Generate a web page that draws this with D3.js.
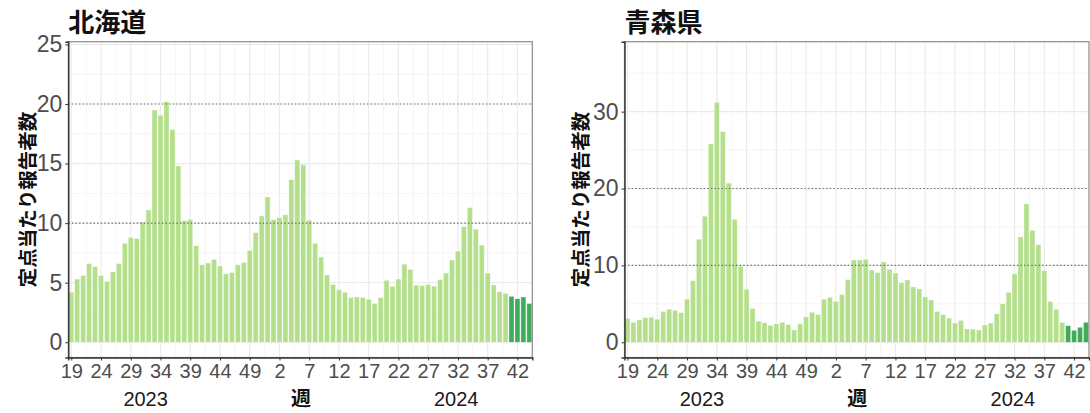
<!DOCTYPE html>
<html>
<head>
<meta charset="utf-8">
<script src="https://cdn.jsdelivr.net/npm/d3@7"></script>
<style>
  html, body { margin: 0; padding: 0; background: #fff; }
  svg { display: block; }
</style>
</head>
<body>
<svg id="chart" width="1090" height="413"></svg>
<script>
// ---------- data ----------
const years = [
  2023,2023,2023,2023,2023,2023,2023,2023,2023,2023,2023,2023,2023,2023,2023,2023,2023,
  2023,2023,2023,2023,2023,2023,2023,2023,2023,2023,2023,2023,2023,2023,2023,2023,2023,
  2024,2024,2024,2024,2024,2024,2024,2024,2024,2024,2024,2024,2024,2024,2024,2024,2024,2024,2024,2024,2024,2024,
  2024,2024,2024,2024,2024,2024,2024,2024,2024,2024,2024,2024,2024,2024,2024,2024,2024,2024,2024,2024,2024,2024
];
const weeks = [
  19,20,21,22,23,24,25,26,27,28,29,30,31,32,33,34,35,36,37,38,39,40,41,42,43,44,45,46,47,48,49,50,51,52,
  1,2,3,4,5,6,7,8,9,10,11,12,13,14,15,16,17,18,19,20,21,22,23,24,25,26,27,28,29,30,31,32,33,34,35,36,37,38,39,40,41,42,43,44
];
// 1 = latest weeks (dark green)
const recent = [
  0,0,0,0,0,0,0,0,0,0,0,0,0,0,0,0,0,0,0,0,0,0,0,0,0,0,0,0,0,0,0,0,0,0,
  0,0,0,0,0,0,0,0,0,0,0,0,0,0,0,0,0,0,0,0,0,0,0,0,0,0,0,0,0,0,0,0,0,0,0,0,0,0,0,0,1,1,1,1
];
const hokkaido = [
  4.2,5.3,5.6,6.6,6.35,5.6,5.1,5.9,6.6,8.3,
  8.8,8.7,10.1,11.1,19.5,19.05,20.2,17.85,14.8,10.2,
  10.3,8.1,6.5,6.65,6.95,6.4,5.75,5.85,6.5,6.7,
  7.7,9.2,10.6,12.2,10.3,10.45,10.7,13.65,15.3,14.9,
  10.25,8.3,7.15,5.65,4.85,4.4,4.2,3.75,3.8,3.75,
  3.6,3.25,3.75,5.2,4.7,5.3,6.55,6.1,4.8,4.75,
  4.85,4.7,5.25,5.8,6.9,7.65,9.7,11.3,9.5,8.15,
  5.8,4.8,4.25,4.1,3.85,3.65,3.8,3.25
];
const aomori = [
  3.1,2.6,2.9,3.2,3.25,3.0,4.0,4.3,4.15,3.85,
  5.6,8.0,13.4,16.4,25.8,31.2,27.4,20.7,16.0,9.9,
  6.9,4.4,2.75,2.55,2.2,2.4,2.6,2.3,1.6,2.4,
  3.3,3.9,3.6,5.6,5.85,5.3,6.2,8.15,10.7,10.7,
  10.8,9.4,9.05,10.45,9.5,9.0,7.75,8.1,7.2,6.95,
  5.9,5.5,4.0,3.6,3.15,2.5,2.85,1.72,1.7,1.6,
  2.25,2.5,3.7,5.0,6.5,8.9,13.7,18.0,14.55,12.7,
  9.3,5.3,4.3,2.6,2.15,1.55,1.95,2.6
];
const xTickLabels = ["19","24","29","34","39","44","49","2","7","12","17","22","27","32","37","42"];
const hokkaidoYTicks = [0,5,10,15,20,25];
const aomoriYTicks = [0,10,20,30];
const refLines = [10,20];
const yearLabels = ["2023","2024"];
const titles = ["北海道","青森県"];
const yTitle = "定点当たり報告者数";
const xTitle = "週";

// ---------- drawing ----------
const svg = d3.select("#chart");
const numFont = "'Liberation Sans', Arial, Helvetica, sans-serif";
const jpFont = "'Noto Sans CJK JP', 'Noto Sans', sans-serif";
const colLight = "#b4e08c";
const colDark = "#41ab5d";

const rows = weeks.map((w, i) => ({ i, w, y: years[i], recent: recent[i] }));

function drawPanel(cfg) {
  const g = svg.append("g");
  const x = d3.scaleLinear().domain([-0.5, weeks.length - 0.5]).range([cfg.x0, cfg.x1]);
  const y = d3.scaleLinear().domain(cfg.yDomain).range([cfg.y1, cfg.y0]);

  // clip
  const clipId = "clip" + cfg.id;
  svg.append("clipPath").attr("id", clipId).append("rect")
    .attr("x", cfg.x0).attr("y", cfg.y0).attr("width", cfg.x1 - cfg.x0).attr("height", cfg.y1 - cfg.y0);
  const inner = g.append("g").attr("clip-path", `url(#${clipId})`);

  // grid: minor horizontal
  const yt = cfg.yTicks;
  const step = yt[1] - yt[0];
  const minorY = [];
  for (let v = yt[0] + step / 2; v < cfg.yDomain[1]; v += step) minorY.push(v);
  inner.selectAll(".ymin").data(minorY).join("line")
    .attr("x1", cfg.x0).attr("x2", cfg.x1)
    .attr("y1", d => y(d)).attr("y2", d => y(d))
    .attr("stroke", "#f3f3f3").attr("stroke-width", 0.8);
  // minor vertical
  const tickIdx = xTickLabels.map((_, k) => k * 5);
  const minorX = tickIdx.map(t => t + 2.5);
  inner.selectAll(".xmin").data(minorX).join("line")
    .attr("y1", cfg.y0).attr("y2", cfg.y1)
    .attr("x1", d => x(d)).attr("x2", d => x(d))
    .attr("stroke", "#f3f3f3").attr("stroke-width", 0.8);
  // major
  inner.selectAll(".ymaj").data(yt).join("line")
    .attr("x1", cfg.x0).attr("x2", cfg.x1)
    .attr("y1", d => y(d)).attr("y2", d => y(d))
    .attr("stroke", "#ebebeb").attr("stroke-width", 1.2);
  inner.selectAll(".xmaj").data(tickIdx).join("line")
    .attr("y1", cfg.y0).attr("y2", cfg.y1)
    .attr("x1", d => x(d)).attr("x2", d => x(d))
    .attr("stroke", "#ebebeb").attr("stroke-width", 1.2);

  // bars
  const bw = (x(1) - x(0)) * 0.84;
  inner.selectAll(".bar").data(rows).join("rect")
    .attr("x", d => x(d.i) - bw / 2)
    .attr("width", bw)
    .attr("y", d => y(cfg.values[d.i]))
    .attr("height", d => y(0) - y(cfg.values[d.i]))
    .attr("fill", d => d.recent ? colDark : colLight)
    .attr("stroke", "#ffffff").attr("stroke-opacity", 0.5).attr("stroke-width", 0.6);

  // reference dotted lines
  inner.selectAll(".ref").data(refLines).join("line")
    .attr("x1", cfg.x0).attr("x2", cfg.x1)
    .attr("y1", d => y(d)).attr("y2", d => y(d))
    .attr("stroke", "#6a6a6a").attr("stroke-width", 1.1)
    .attr("stroke-dasharray", "1.4,2.2");

  // border
  g.append("rect").attr("x", cfg.x0).attr("y", cfg.y0)
    .attr("width", cfg.x1 - cfg.x0).attr("height", cfg.y1 - cfg.y0)
    .attr("fill", "none").attr("stroke", "#8c8c8c").attr("stroke-width", 1.2);

  // axes
  const yAxis = d3.axisLeft(y).tickValues(yt).tickSize(3).tickPadding(3).tickFormat(d3.format("d"));
  const ya = g.append("g").attr("transform", `translate(${cfg.x0},0)`).call(yAxis);
  ya.select(".domain").attr("stroke", "#333").attr("stroke-width", 1.4);
  ya.selectAll(".tick line").attr("stroke", "#333");
  ya.selectAll("text").attr("font-family", numFont).attr("font-size", 23).attr("fill", "#4d4d4d");

  const xAxis = d3.axisBottom(x).tickValues(tickIdx).tickSize(3).tickPadding(3)
    .tickFormat((d, k) => xTickLabels[k]);
  const xa = g.append("g").attr("transform", `translate(0,${cfg.y1})`).call(xAxis);
  xa.select(".domain").attr("stroke", "#333").attr("stroke-width", 1.4);
  xa.selectAll(".tick line").attr("stroke", "#333");
  xa.selectAll("text").attr("font-family", numFont).attr("font-size", 20).attr("fill", "#4d4d4d");

  // year labels and axis title
  const yearPos = [12.5, 64.7];
  g.selectAll(".yr").data(yearLabels).join("text")
    .attr("x", (d, k) => x(yearPos[k])).attr("y", 406)
    .attr("text-anchor", "middle").attr("font-family", numFont).attr("font-size", 20)
    .attr("fill", "#1a1a1a").text(d => d);
  g.append("text").attr("x", x(38.6)).attr("y", 406)
    .attr("text-anchor", "middle").attr("font-family", jpFont).attr("font-weight", 700)
    .attr("font-size", 20).attr("fill", "#111").text(xTitle);

  // y title
  g.append("text")
    .attr("transform", `translate(${cfg.yTitleX},${(cfg.y0 + cfg.y1) / 2}) rotate(-90)`)
    .attr("text-anchor", "middle").attr("dominant-baseline", "central")
    .attr("font-family", jpFont).attr("font-weight", 700).attr("font-size", 19.5)
    .attr("fill", "#111").text(yTitle);

  // title
  g.append("text").attr("x", cfg.x0).attr("y", 32)
    .attr("font-family", jpFont).attr("font-weight", 700).attr("font-size", 26)
    .attr("fill", "#111").text(cfg.title);
}

drawPanel({ id: 1, title: titles[0], values: hokkaido, yTicks: hokkaidoYTicks,
  yDomain: [-1.28, 25.23], x0: 68.3, x1: 532.3, y0: 41.7, y1: 357.5, yTitleX: 26 });
drawPanel({ id: 2, title: titles[1], values: aomori, yTicks: aomoriYTicks,
  yDomain: [-1.98, 39.1], x0: 624.5, x1: 1089, y0: 41.7, y1: 357.5, yTitleX: 579 });
</script>
</body>
</html>
